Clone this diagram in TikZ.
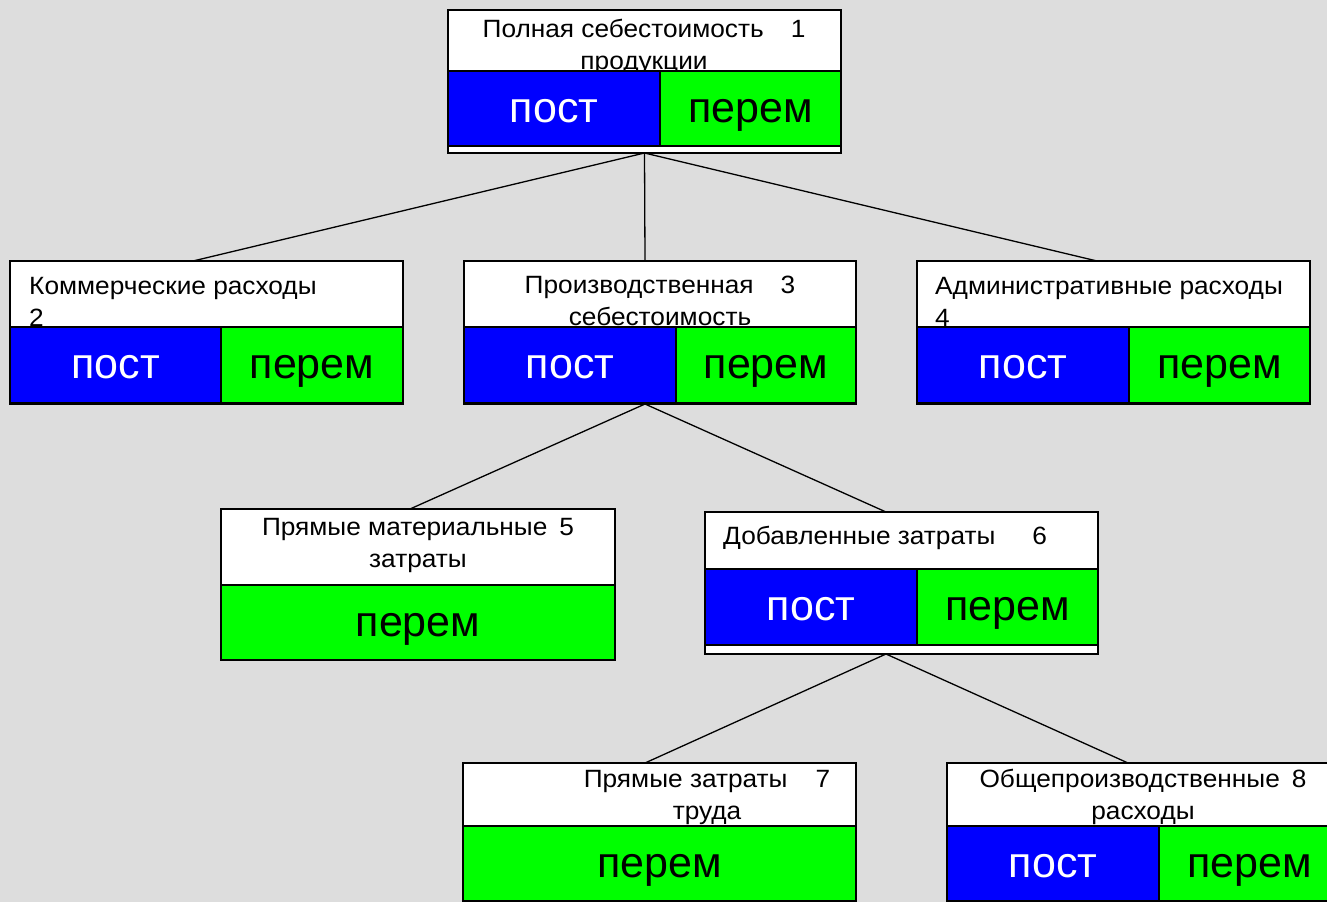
\documentclass[tikz,border=0pt]{standalone}
\usepackage{fontspec}
\setmainfont{Liberation Sans}
\newfontfamily\labelfont[FakeStretch=1.05]{Liberation Sans}
\definecolor{bg}{RGB}{221,221,221}
\definecolor{pblue}{RGB}{0,0,255}
\definecolor{pgreen}{RGB}{0,255,0}
\tikzset{
 frame/.style={draw=black, fill=white, line width=1.5pt, inner sep=0pt, outer sep=0pt, anchor=north west},
 part/.style={draw=black, line width=1.3pt, inner sep=0pt, outer sep=0pt, anchor=north west,
   font=\fontsize{43}{50}\selectfont, text height=27pt, text depth=0pt},
 fixbox/.style={part, fill=pblue, text=white},
 varbox/.style={part, fill=pgreen, text=black},
 lbl/.style={font=\labelfont\fontsize{25}{32}\selectfont, inner sep=0pt, anchor=base, align=center},
 lbll/.style={font=\labelfont\fontsize{25}{32}\selectfont, inner sep=0pt, anchor=base west, align=left},
 link/.style={line width=1.3pt, draw=black}
}
\begin{document}
\begin{tikzpicture}[x=1pt,y=-1pt]
\fill[bg] (0,0) rectangle (1327,902);
\useasboundingbox (0,0) rectangle (1327,902);

% Box 1
\node[frame, minimum width=393pt, minimum height=143pt] (b1) at (448,10) {};
\node[lbl] (t1) at (644,69) {Полная себестоимость\hspace{27pt}1\\продукции};
\node[fixbox, minimum width=212pt, minimum height=75pt] (p1) at (448,71) {пост};
\node[varbox, minimum width=181pt, minimum height=75pt] (v1) at (660,71) {перем};
\draw[line width=1.5pt] ([xshift=15pt]p1.south west) -- ([xshift=16pt]p1.south east);

% Box 2
\node[frame, minimum width=393pt, minimum height=143pt] (b2) at (10,261) {};
\node[lbll] (t2) at (29,326) {Коммерческие расходы\\2};
\node[fixbox, minimum width=211pt, minimum height=76pt] (p2) at (10,327) {пост};
\node[varbox, minimum width=182pt, minimum height=76pt] (v2) at (221,327) {перем};

% Box 3
\node[frame, minimum width=392pt, minimum height=143pt] (b3) at (464,261) {};
\node[lbl] (t3) at (660,325) {Производственная\hspace{27pt}3\\себестоимость};
\node[fixbox, minimum width=212pt, minimum height=76pt] (p3) at (464,327) {пост};
\node[varbox, minimum width=180pt, minimum height=76pt] (v3) at (676,327) {перем};

% Box 4
\node[frame, minimum width=393pt, minimum height=143pt] (b4) at (917,261) {};
\node[lbll] (t4) at (935,326) {Административные расходы\\4};
\node[fixbox, minimum width=212pt, minimum height=76pt] (p4) at (917,327) {пост};
\node[varbox, minimum width=181pt, minimum height=76pt] (v4) at (1129,327) {перем};

% Box 5
\node[frame, minimum width=394pt, minimum height=151pt] (b5) at (221,509) {};
\node[lbl] (t5) at (418,567) {Прямые материальные\hspace{12pt}5\\затраты};
\node[varbox, minimum width=394pt, minimum height=75pt] (v5) at (221,585) {перем};

% Box 6
\node[frame, minimum width=393pt, minimum height=142pt] (b6) at (705,512) {};
\node[lbll] (t6) at (723,544) {Добавленные затраты\hspace{37pt}6};
\node[fixbox, minimum width=212pt, minimum height=76pt] (p6) at (705,569) {пост};
\node[varbox, minimum width=181pt, minimum height=76pt] (v6) at (917,569) {перем};

% Box 7
\node[frame, minimum width=393pt, minimum height=138pt] (b7) at (463,763) {};
\node[lbl] (t7) at (707,819) {Прямые затраты\hspace{28pt}7\\труда};
\node[varbox, minimum width=393pt, minimum height=75pt] (v7) at (463,826) {перем};

% Box 8
\node[frame, minimum width=393pt, minimum height=138pt] (b8) at (947,763) {};
\node[lbl] (t8) at (1143,819) {Общепроизводственные\hspace{12pt}8\\расходы};
\node[fixbox, minimum width=212pt, minimum height=75pt] (p8) at (947,826) {пост};
\node[varbox, minimum width=181pt, minimum height=75pt] (v8) at (1159,826) {перем};

% Connectors
\draw[link] (b1.south) -- ([xshift=-13.5pt]b2.north);
\draw[link] (b1.south) -- ([xshift=-15pt]b3.north);
\draw[link] (b1.south) -- ([xshift=-16.5pt]b4.north);
\draw[link] ([xshift=-15pt]b3.south) -- ([xshift=-8pt]b5.north);
\draw[link] ([xshift=-15pt]b3.south) -- ([xshift=-15.5pt]b6.north);
\draw[link] ([xshift=-15.5pt]b6.south) -- ([xshift=-14.5pt]b7.north);
\draw[link] ([xshift=-15.5pt]b6.south) -- ([xshift=-15.5pt]b8.north);
\end{tikzpicture}
\end{document}
